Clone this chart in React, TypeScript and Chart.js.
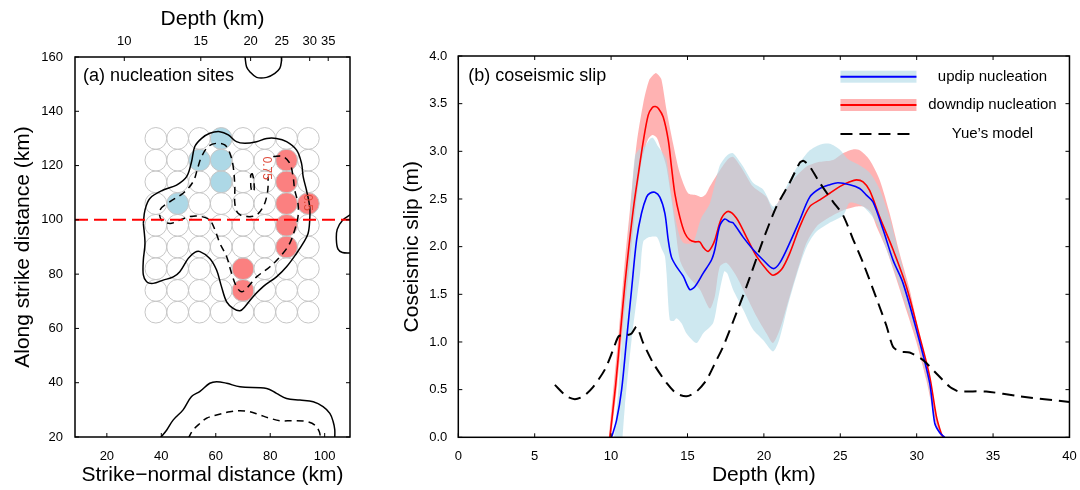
import React, { useEffect, useRef } from 'react';
import { Chart, registerables } from 'chart.js';

Chart.register(...registerables);

const FONT = '"Liberation Sans", Arial, Helvetica, sans-serif';
Chart.defaults.font.family = FONT;
Chart.defaults.color = '#000';

// ---------------- Panel (a): nucleation sites ----------------
const xMinA = 8.3;
const xMaxA = 109.3;
const yMinA = 20;
const yMaxA = 160;
const gridCols = [38, 46, 54, 62, 70, 78, 86, 94];
const gridRows = [130, 122, 114, 106, 98, 90, 82, 74, 66];
const updipSites: [number, number][] = [[62, 130], [54, 122], [62, 122], [62, 114], [46, 106]];
const downdipSites: [number, number][] = [[86, 122], [86, 114], [86, 106], [94, 106], [86, 98], [86, 90], [70, 82], [70, 74]];
const siteRadiusKm = 4;
const hypoLineY = 100;
const depthTickLabels = [10, 15, 20, 25, 30, 35];
const depthTickPos = [26.4, 54.5, 72.8, 84.2, 94.5, 101.3];

const solidMain: [number, number][] = [
  [33.4, 98.7], [34.0, 103.6], [35.8, 107.9], [40.7, 111.0], [45.6, 112.8], [49.3, 115.9], [51.1, 121.4],
  [52.3, 127.0], [54.8, 130.0], [57.8, 131.9], [61.5, 132.5], [64.6, 131.3], [67.6, 128.8], [70.7, 128.2],
  [75.0, 128.8], [78.7, 130.0], [82.3, 130.0], [86.0, 128.8], [89.7, 125.7], [91.5, 120.8], [92.1, 115.9],
  [93.3, 111.0], [94.5, 104.8], [94.5, 99.9], [93.9, 95.0], [92.1, 91.4], [89.7, 87.7], [86.0, 82.7],
  [82.3, 79.0], [77.4, 75.4], [73.7, 71.7], [70.7, 68.0], [68.9, 66.5], [66.4, 67.4], [64.0, 69.8],
  [62.1, 75.4], [60.3, 81.5], [57.8, 85.8], [54.2, 88.3], [52.3, 88.0], [49.9, 85.8], [46.8, 80.9],
  [44.4, 79.0], [40.7, 77.8], [37.0, 76.6], [34.6, 77.2], [33.4, 79.7], [33.4, 85.2], [34.0, 91.4], [33.4, 98.7],
];
const solidTop: [number, number][] = [
  [70.7, 160.5], [71.3, 156.4], [72.5, 154.6], [75.0, 152.5], [78.7, 152.5], [81.7, 154.0], [83.5, 155.8],
  [84.1, 158.3], [84.1, 160.5],
];
const solidRight: [number, number][] = [
  [109.6, 102.0], [106.5, 99.8], [104.6, 96.5], [104.3, 92.6], [104.9, 89.2], [106.5, 88.0], [109.6, 87.8],
];
const solidBottom: [number, number][] = [
  [39.5, 19.5], [42.0, 22.6], [44.4, 26.3], [48.0, 30.0], [51.1, 34.9], [54.2, 36.8], [57.8, 39.8],
  [60.3, 40.4], [64.0, 39.8], [68.9, 38.5], [78.7, 37.9], [82.3, 36.1], [86.0, 34.2], [90.9, 33.6],
  [95.8, 33.0], [99.4, 31.2], [101.9, 28.7], [103.1, 25.7], [103.7, 22.7], [103.7, 19.5],
];
const dashedMain: [number, number][] = [
  [81.1, 123.3], [84.7, 123.3], [87.2, 120.8], [88.4, 115.9], [89.0, 111.0], [90.2, 106.1], [90.2, 101.2],
  [89.0, 96.3], [87.2, 91.4], [84.7, 87.7], [79.9, 82.7], [75.0, 79.0], [71.9, 75.4], [69.5, 73.5],
  [67.6, 75.4], [65.8, 80.3], [64.0, 86.4], [61.5, 91.4], [59.7, 96.3], [57.8, 99.9], [54.8, 101.2],
  [50.5, 101.2], [46.8, 99.9], [43.2, 98.7], [40.1, 99.9], [39.5, 103.6], [43.2, 106.7], [48.0, 109.8],
  [51.7, 114.1], [53.5, 119.6], [54.8, 123.3], [57.2, 127.0], [60.3, 128.2], [63.3, 127.6], [65.2, 124.5],
  [66.4, 119.6], [67.0, 112.2], [67.0, 106.1], [68.2, 102.4], [71.3, 101.2], [75.0, 101.8], [77.4, 104.8],
  [78.7, 108.5], [79.2, 112.2], [79.2, 115.9],
];
const dashedSmall: [number, number][] = [
  [72.8, 116.5], [73.4, 117.0], [74.0, 114.5], [74.1, 111.0], [73.5, 110.2], [72.9, 112.0], [72.8, 116.5],
];
const dashedBottom: [number, number][] = [
  [49.9, 19.5], [51.7, 22.6], [54.2, 25.0], [56.6, 26.9], [60.3, 28.1], [65.2, 29.3], [68.9, 29.7],
  [72.5, 29.3], [76.2, 28.1], [79.9, 26.9], [83.5, 26.0], [88.4, 26.0], [93.3, 25.7], [96.4, 24.4],
  [98.0, 22.0], [98.5, 19.5],
];
const contourLabels: [string, number, number][] = [['0.75', 78.7, 119.0], ['0.5', 93.6, 106.4]];

// ---------------- Panel (b): coseismic slip ----------------
const updipMean: [number, number][] = [
  [10.03, 0], [10.36, 0.18], [10.69, 0.5], [11.01, 1.02], [11.34, 1.55], [11.67, 2.07], [11.99, 2.35],
  [12.32, 2.52], [12.54, 2.56], [12.86, 2.57], [13.19, 2.52], [13.52, 2.35], [13.74, 2.07], [13.95, 1.89],
  [14.28, 1.79], [14.72, 1.69], [15.15, 1.55], [15.48, 1.58], [16.02, 1.72], [16.57, 1.86], [16.79, 1.97],
  [17.11, 2.22], [17.44, 2.29], [17.77, 2.26], [17.98, 2.25], [18.64, 2.1], [19.29, 1.97], [19.95, 1.86],
  [20.6, 1.77], [21.04, 1.83], [21.69, 2.04], [22.35, 2.28], [23.0, 2.52], [23.66, 2.61], [24.31, 2.65],
  [24.85, 2.67], [25.62, 2.65], [26.27, 2.61], [26.71, 2.54], [27.14, 2.47], [27.8, 2.18], [28.45, 1.86],
  [29.1, 1.62], [29.98, 1.13], [30.85, 0.57], [31.18, 0.15], [31.5, 0.05], [31.83, 0],
];
const downdipMean: [number, number][] = [
  [9.92, 0], [10.3, 0.55], [10.6, 1.08], [10.9, 1.6], [11.2, 2.05], [11.5, 2.45], [11.8, 2.78], [12.1, 3.1],
  [12.43, 3.38], [12.7, 3.46], [12.9, 3.47], [13.1, 3.45], [13.41, 3.36], [13.74, 3.12], [13.95, 2.84],
  [14.17, 2.56], [14.5, 2.31], [14.83, 2.14], [15.15, 2.07], [15.5, 2.05], [15.8, 2.05], [16.05, 1.99],
  [16.35, 1.95], [16.6, 2.0], [16.79, 2.07], [17.23, 2.3], [17.66, 2.37], [18.2, 2.3], [18.86, 2.1],
  [19.51, 1.9], [20.17, 1.76], [20.6, 1.7], [21.15, 1.76], [21.69, 1.93], [22.35, 2.21], [23.0, 2.42],
  [23.66, 2.49], [24.31, 2.56], [24.96, 2.63], [25.62, 2.68], [26.06, 2.7], [26.49, 2.68], [26.92, 2.59],
  [27.58, 2.31], [28.45, 1.97], [29.33, 1.58], [30.19, 1.06], [30.85, 0.64], [31.29, 0.22], [31.61, 0.04],
  [31.75, 0],
];
const updipMax: [number, number][] = [
  [10.2, 0], [10.5, 0.55], [10.9, 1.5], [11.2, 2.2], [11.56, 2.95], [11.9, 3.03], [12.2, 3.05], [12.53, 3.13],
  [12.75, 3.14], [13.08, 3.05], [13.4, 2.98], [13.63, 2.91], [13.9, 2.6], [14.2, 2.3], [14.5, 2.1],
  [14.72, 2.04], [15.0, 2.03], [15.37, 2.04], [15.9, 2.3], [16.46, 2.45], [17.11, 2.85], [17.6, 2.96],
  [17.98, 2.98], [18.64, 2.84], [19.29, 2.67], [19.95, 2.6], [20.6, 2.42], [21.04, 2.49], [21.69, 2.7],
  [22.35, 2.88], [23.0, 3.01], [23.66, 3.07], [24.31, 3.08], [24.96, 3.02], [25.5, 2.92], [26.2, 2.86],
  [26.9, 2.78], [27.58, 2.6], [28.23, 2.3], [28.88, 1.9], [29.54, 1.5], [30.19, 1.02], [30.85, 0.52],
  [31.4, 0.08], [31.7, 0],
];
const updipMin: [number, number][] = [
  [10.75, 0], [10.9, 0.32], [11.34, 1.02], [11.9, 1.72], [12.1, 2.05], [12.5, 2.1], [13.0, 2.1], [13.3, 1.98],
  [13.52, 1.9], [13.63, 1.72], [13.84, 1.23], [14.1, 1.22], [14.28, 1.25], [14.6, 1.2], [14.94, 1.09],
  [15.59, 0.99], [16.02, 1.09], [16.68, 1.2], [17.0, 1.45], [17.4, 1.74], [17.6, 1.72], [17.98, 1.55],
  [18.64, 1.34], [19.29, 1.13], [19.95, 1.02], [20.6, 0.9], [21.0, 1.02], [21.6, 1.4], [22.3, 1.78],
  [22.8, 2.0], [23.4, 2.15], [24.3, 2.25], [25.2, 2.33], [25.62, 2.46], [26.49, 2.42], [27.36, 2.25],
  [28.02, 1.97], [28.67, 1.69], [29.33, 1.37], [29.98, 1.06], [30.63, 0.64], [31.29, 0.15], [31.72, 0],
];
const downdipMax: [number, number][] = [
  [9.85, 0], [10.2, 0.6], [10.5, 1.1], [10.9, 1.85], [11.23, 2.38], [11.67, 3.08], [12.1, 3.5], [12.5, 3.75],
  [12.9, 3.82], [13.1, 3.8], [13.3, 3.75], [13.63, 3.43], [14.06, 3.08], [14.5, 2.77], [15.04, 2.56],
  [15.59, 2.54], [15.92, 2.52], [16.2, 2.55], [16.46, 2.63], [17.11, 2.8], [17.66, 2.92], [18.0, 2.94],
  [18.64, 2.8], [19.29, 2.63], [20.17, 2.52], [20.6, 2.38], [21.04, 2.5], [21.91, 2.7], [22.79, 2.84],
  [23.66, 2.89], [24.53, 2.91], [25.18, 2.98], [25.83, 3.02], [26.27, 3.01], [26.92, 2.91], [27.58, 2.7],
  [28.23, 2.35], [28.88, 1.93], [29.54, 1.55], [30.19, 1.06], [30.85, 0.57], [31.5, 0.08], [31.75, 0],
];
const downdipMin: [number, number][] = [
  [10.0, 0], [10.4, 0.55], [10.8, 1.2], [11.2, 1.8], [11.6, 2.4], [12.0, 2.9], [12.4, 3.12], [12.7, 3.17],
  [13.0, 3.14], [13.3, 3.0], [13.6, 2.85], [13.9, 2.55], [14.2, 2.2], [14.5, 1.86], [15.0, 1.7],
  [15.81, 1.55], [16.46, 1.35], [16.79, 1.48], [17.11, 1.79], [17.55, 1.83], [18.2, 1.69], [18.86, 1.48],
  [19.51, 1.27], [20.17, 1.09], [20.6, 0.99], [21.04, 1.13], [21.69, 1.48], [22.35, 1.83], [22.79, 2.04],
  [23.44, 2.21], [24.31, 2.31], [25.18, 2.38], [26.06, 2.42], [26.5, 2.42], [27.0, 2.36], [27.4, 2.2],
  [28.0, 1.98], [28.67, 1.66], [29.33, 1.33], [29.98, 1.0], [30.63, 0.6], [31.2, 0.18], [31.6, 0],
];
const yueModel: [number, number][] = [
  [6.32, 0.55], [7.09, 0.43], [7.63, 0.4], [8.18, 0.43], [8.83, 0.53], [9.59, 0.71], [10.14, 0.92],
  [10.5, 1.06], [11.01, 1.07], [11.34, 1.09], [11.67, 1.16], [12.1, 0.99], [12.75, 0.78], [13.63, 0.57],
  [14.28, 0.46], [14.94, 0.43], [15.59, 0.48], [16.24, 0.6], [16.9, 0.81], [17.33, 0.95], [18.0, 1.22],
  [18.86, 1.58], [19.95, 2.07], [20.82, 2.42], [21.69, 2.67], [22.35, 2.88], [22.6, 2.9], [23.0, 2.84],
  [23.66, 2.67], [24.53, 2.47], [25.18, 2.33], [25.83, 2.08], [26.49, 1.83], [27.36, 1.46], [28.02, 1.17],
  [28.45, 0.95], [28.88, 0.9], [29.54, 0.89], [30.41, 0.81], [31.29, 0.67], [32.16, 0.53], [32.6, 0.49],
  [32.81, 0.48], [34.55, 0.48], [36.74, 0.43], [40, 0.37],
];
const legendLabels = ['updip nucleation', 'downdip nucleation', 'Yue\u2019s model'];

// ---------------- helpers ----------------
const pts = (arr: [number, number][]) => arr.map(([x, y]) => ({ x, y }));
const bandPoly = (upper: [number, number][], lower: [number, number][]) =>
  pts([...upper, ...lower.slice().reverse()]);

const lineDs = (data: [number, number][], opts: any) => ({
  data: pts(data),
  showLine: true,
  pointRadius: 0,
  pointHoverRadius: 0,
  borderColor: '#000',
  borderWidth: 1.5,
  tension: 0.35,
  fill: false,
  ...opts,
});

function drawFrame(chart: any, topScaleId: string) {
  const { ctx, chartArea: a, scales } = chart;
  const xs = scales.x;
  const ys = scales.y;
  const ts = scales[topScaleId];
  const L = 4;
  ctx.save();
  ctx.strokeStyle = '#000';
  ctx.lineWidth = 1;
  ctx.beginPath();
  xs.ticks.forEach((t: any) => {
    const p = xs.getPixelForValue(t.value);
    ctx.moveTo(p, a.bottom);
    ctx.lineTo(p, a.bottom - L);
  });
  ts.ticks.forEach((t: any) => {
    const p = ts.getPixelForValue(t.value);
    ctx.moveTo(p, a.top);
    ctx.lineTo(p, a.top + L);
  });
  ys.ticks.forEach((t: any) => {
    const p = ys.getPixelForValue(t.value);
    ctx.moveTo(a.left, p);
    ctx.lineTo(a.left + L, p);
    ctx.moveTo(a.right, p);
    ctx.lineTo(a.right - L, p);
  });
  ctx.stroke();
  ctx.lineWidth = 1.5;
  ctx.strokeRect(a.left, a.top, a.right - a.left, a.bottom - a.top);
  ctx.restore();
}

const tickFont = { size: 13, family: FONT };
const titleFont = { size: 21, family: FONT };

function leftConfig(): any {
  const gridPts: { x: number; y: number }[] = [];
  gridRows.forEach((r) => gridCols.forEach((c) => gridPts.push({ x: c, y: r })));
  const radius = (c: any) => {
    const s = c.chart.scales.x;
    return Math.abs(s.getPixelForValue(siteRadiusKm) - s.getPixelForValue(0));
  };
  const plugin = {
    id: 'panelA',
    afterDatasetsDraw(chart: any) {
      const { ctx, chartArea: a, scales } = chart;
      ctx.save();
      ctx.fillStyle = '#000';
      ctx.font = `18px ${FONT}`;
      ctx.textAlign = 'left';
      ctx.textBaseline = 'middle';
      ctx.fillText('(a) nucleation sites', a.left + 8, a.top + 19);
      ctx.fillStyle = '#e04b3b';
      ctx.font = `12px ${FONT}`;
      ctx.textAlign = 'center';
      contourLabels.forEach(([t, vx, vy]) => {
        ctx.save();
        ctx.translate(scales.x.getPixelForValue(vx), scales.y.getPixelForValue(vy));
        ctx.rotate(Math.PI / 2);
        ctx.fillText(t, 0, 0);
        ctx.restore();
      });
      ctx.restore();
      drawFrame(chart, 'x2');
    },
  };
  return {
    type: 'scatter',
    data: {
      datasets: [
        lineDs([[xMinA, hypoLineY], [xMaxA, hypoLineY]], { borderColor: '#ff0000', borderWidth: 2, borderDash: [13, 6], tension: 0, order: 0 }),
        lineDs(solidMain, { order: 1 }),
        lineDs(solidTop, { order: 1 }),
        lineDs(solidRight, { order: 1 }),
        lineDs(solidBottom, { order: 1 }),
        lineDs(dashedMain, { borderDash: [7, 5], order: 1 }),
        lineDs(dashedSmall, { borderDash: [7, 5], order: 1, tension: 0.2 }),
        lineDs(dashedBottom, { borderDash: [7, 5], order: 1 }),
        {
          data: gridPts,
          pointRadius: radius,
          pointHoverRadius: radius,
          pointBackgroundColor: 'rgba(0,0,0,0)',
          pointBorderColor: '#c6c6c6',
          pointBorderWidth: 1,
          order: 2,
        },
        {
          data: pts(updipSites),
          pointRadius: radius,
          pointHoverRadius: radius,
          pointBackgroundColor: '#add8e6',
          pointBorderWidth: 0,
          order: 3,
        },
        {
          data: pts(downdipSites),
          pointRadius: radius,
          pointHoverRadius: radius,
          pointBackgroundColor: '#fb8080',
          pointBorderWidth: 0,
          order: 3,
        },
      ],
    },
    options: {
      responsive: false,
      maintainAspectRatio: false,
      animation: false,
      events: [],
      layout: { padding: { left: 0, right: 20, top: 0, bottom: 0 } },
      plugins: { legend: { display: false }, tooltip: { enabled: false } },
      scales: {
        x: {
          type: 'linear',
          position: 'bottom',
          min: xMinA,
          max: xMaxA,
          afterFit: (s: any) => { s.height = 53; },
          grid: { display: false },
          border: { display: false },
          ticks: { stepSize: 20, includeBounds: false, autoSkip: false, maxRotation: 0, color: '#000', font: tickFont, padding: 3.3 },
          title: { display: true, text: 'Strike\u2212normal distance (km)', color: '#000', font: titleFont, padding: { top: 0, bottom: 2 } },
        },
        x2: {
          type: 'linear',
          position: 'top',
          min: xMinA,
          max: xMaxA,
          afterFit: (s: any) => { s.height = 57; },
          afterBuildTicks: (s: any) => { s.ticks = depthTickPos.map((v) => ({ value: v })); },
          grid: { display: false },
          border: { display: false },
          ticks: {
            autoSkip: false, maxRotation: 0, color: '#000', font: tickFont, padding: 0,
            callback: (_v: any, i: number) => String(depthTickLabels[i]),
          },
          title: { display: true, text: 'Depth (km)', color: '#000', font: titleFont, padding: { top: 6.8, bottom: 0 } },
        },
        y: {
          type: 'linear',
          min: yMinA,
          max: yMaxA,
          afterFit: (s: any) => { s.width = 75; },
          grid: { display: false },
          border: { display: false },
          ticks: { stepSize: 20, includeBounds: false, autoSkip: false, color: '#000', font: tickFont, padding: 4 },
          title: { display: true, text: 'Along strike distance (km)', color: '#000', font: titleFont, padding: { top: 11, bottom: 0 } },
        },
      },
    },
    plugins: [plugin],
  };
}

function rightConfig(): any {
  const plugin = {
    id: 'panelB',
    afterDatasetsDraw(chart: any) {
      const { ctx, chartArea: a } = chart;
      ctx.save();
      ctx.fillStyle = '#000';
      ctx.font = `18px ${FONT}`;
      ctx.textAlign = 'left';
      ctx.textBaseline = 'middle';
      ctx.fillText('(b) coseismic slip', a.left + 10, a.top + 20);
      const x0 = a.right - 229;
      const x1 = a.right - 153;
      const tx = a.right - 77;
      const rows = [a.top + 20.7, a.top + 49, a.top + 78];
      const bandCols = ['rgba(173,216,230,0.6)', 'rgba(255,0,0,0.3)'];
      const lineCols = ['#0000ff', '#ff0000'];
      for (let i = 0; i < 2; i++) {
        ctx.fillStyle = bandCols[i];
        ctx.fillRect(x0, rows[i] - 6, x1 - x0, 12);
        ctx.strokeStyle = lineCols[i];
        ctx.lineWidth = 2;
        ctx.beginPath();
        ctx.moveTo(x0, rows[i]);
        ctx.lineTo(x1, rows[i]);
        ctx.stroke();
      }
      ctx.strokeStyle = '#000';
      ctx.lineWidth = 2;
      ctx.setLineDash([12, 7]);
      ctx.beginPath();
      ctx.moveTo(x0, rows[2]);
      ctx.lineTo(x1, rows[2]);
      ctx.stroke();
      ctx.setLineDash([]);
      ctx.fillStyle = '#000';
      ctx.font = `15px ${FONT}`;
      ctx.textAlign = 'center';
      legendLabels.forEach((t, i) => ctx.fillText(t, tx, rows[i]));
      ctx.restore();
      drawFrame(chart, 'x');
    },
  };
  return {
    type: 'scatter',
    data: {
      datasets: [
        lineDs(yueModel, { borderColor: '#000', borderWidth: 2, borderDash: [12, 7], tension: 0.25, order: 1 }),
        lineDs(updipMean, { borderColor: '#0000ff', borderWidth: 1.6, tension: 0.3, order: 2 }),
        lineDs(downdipMean, { borderColor: '#ff0000', borderWidth: 1.6, tension: 0.3, order: 3 }),
        lineDs([], {
          data: bandPoly(updipMax, updipMin), fill: 'shape', backgroundColor: 'rgba(173,216,230,0.6)',
          borderColor: 'rgba(0,0,0,0)', borderWidth: 0, tension: 0.25, order: 4,
        }),
        lineDs([], {
          data: bandPoly(downdipMax, downdipMin), fill: 'shape', backgroundColor: 'rgba(255,0,0,0.3)',
          borderColor: 'rgba(0,0,0,0)', borderWidth: 0, tension: 0.25, order: 5,
        }),
      ],
    },
    options: {
      responsive: false,
      maintainAspectRatio: false,
      animation: false,
      events: [],
      layout: { padding: { left: 0, right: 10, top: 56, bottom: 0 } },
      plugins: { legend: { display: false }, tooltip: { enabled: false } },
      scales: {
        x: {
          type: 'linear',
          min: 0,
          max: 40,
          afterFit: (s: any) => { s.height = 52.7; },
          grid: { display: false },
          border: { display: false },
          ticks: { stepSize: 5, autoSkip: false, maxRotation: 0, color: '#000', font: tickFont, padding: 3.3 },
          title: { display: true, text: 'Depth (km)', color: '#000', font: titleFont, padding: { top: 0, bottom: 2 } },
        },
        y: {
          type: 'linear',
          min: 0,
          max: 4,
          afterFit: (s: any) => { s.width = 68.3; },
          grid: { display: false },
          border: { display: false },
          ticks: {
            stepSize: 0.5, autoSkip: false, color: '#000', font: tickFont, padding: 3,
            callback: (v: any) => Number(v).toFixed(1),
          },
          title: { display: true, text: 'Coseismic slip (m)', color: '#000', font: titleFont, padding: { top: 9.4, bottom: 0 } },
        },
      },
    },
    plugins: [plugin],
  };
}

export default function App() {
  const leftRef = useRef<HTMLCanvasElement>(null);
  const rightRef = useRef<HTMLCanvasElement>(null);
  useEffect(() => {
    const c1 = new Chart(leftRef.current as HTMLCanvasElement, leftConfig());
    const c2 = new Chart(rightRef.current as HTMLCanvasElement, rightConfig());
    return () => {
      c1.destroy();
      c2.destroy();
    };
  }, []);
  return (
    <div style={{ position: 'fixed', left: 0, top: 0, width: 1080, height: 490, background: '#fff', overflow: 'hidden' }}>
      <canvas ref={leftRef} width={370} height={490} style={{ position: 'absolute', left: 0, top: 0, width: 370, height: 490 }} />
      <canvas ref={rightRef} width={690} height={490} style={{ position: 'absolute', left: 390, top: 0, width: 690, height: 490 }} />
    </div>
  );
}
